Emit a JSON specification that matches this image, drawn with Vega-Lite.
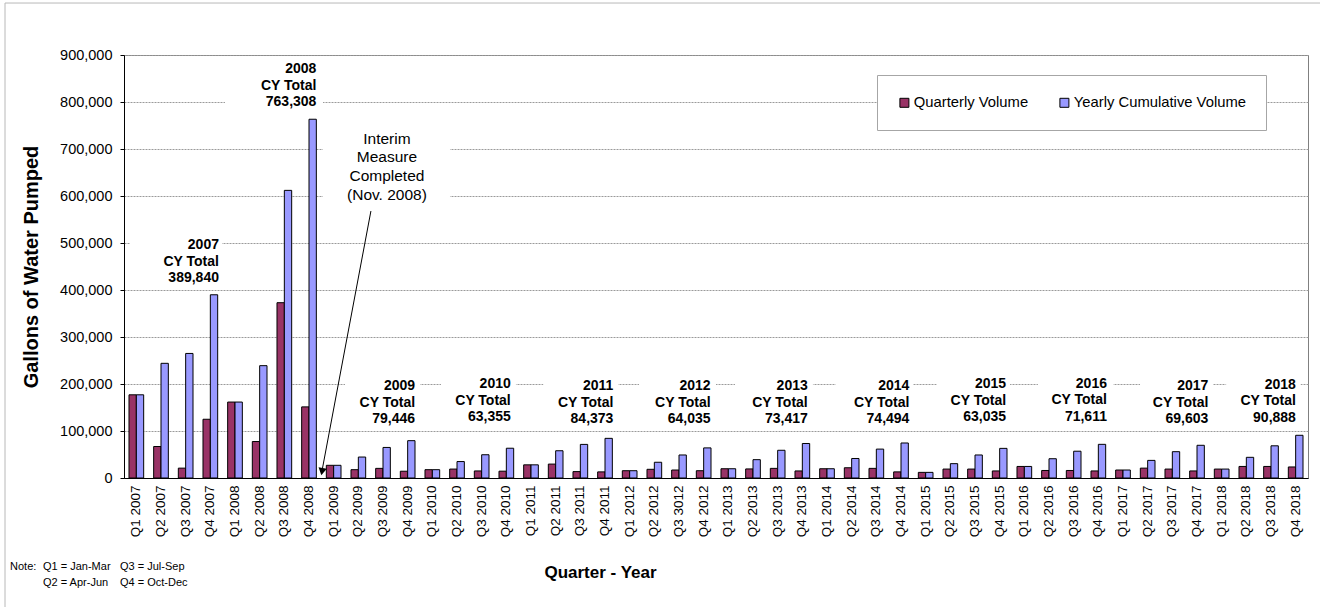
{
  "$schema": "https://vega.github.io/schema/vega-lite/v6.json",
  "width": 1184,
  "height": 423,
  "autosize": {"type": "none"},
  "padding": {"left": 124, "top": 55, "right": 12, "bottom": 129},
  "background": "white",
  "config": {
    "font": "Liberation Sans",
    "view": {"stroke": "#808080", "strokeWidth": 1},
    "axis": {"labelColor": "black", "titleColor": "black", "labelFont": "Liberation Sans", "titleFont": "Liberation Sans"},
    "legend": {"labelFont": "Liberation Sans", "labelColor": "black"}
  },
  "datasets": {
    "volumes": [
      {"quarter": "Q1 2007", "Quarterly Volume": 177000, "Yearly Cumulative Volume": 177000},
      {"quarter": "Q2 2007", "Quarterly Volume": 67000, "Yearly Cumulative Volume": 244000},
      {"quarter": "Q3 2007", "Quarterly Volume": 21000, "Yearly Cumulative Volume": 265000},
      {"quarter": "Q4 2007", "Quarterly Volume": 125000, "Yearly Cumulative Volume": 389840},
      {"quarter": "Q1 2008", "Quarterly Volume": 161600, "Yearly Cumulative Volume": 161600},
      {"quarter": "Q2 2008", "Quarterly Volume": 77600, "Yearly Cumulative Volume": 239000},
      {"quarter": "Q3 2008", "Quarterly Volume": 373000, "Yearly Cumulative Volume": 612000},
      {"quarter": "Q4 2008", "Quarterly Volume": 151300, "Yearly Cumulative Volume": 763308},
      {"quarter": "Q1 2009", "Quarterly Volume": 27000, "Yearly Cumulative Volume": 27000},
      {"quarter": "Q2 2009", "Quarterly Volume": 17700, "Yearly Cumulative Volume": 44600},
      {"quarter": "Q3 2009", "Quarterly Volume": 20500, "Yearly Cumulative Volume": 65000},
      {"quarter": "Q4 2009", "Quarterly Volume": 14400, "Yearly Cumulative Volume": 79446},
      {"quarter": "Q1 2010", "Quarterly Volume": 17700, "Yearly Cumulative Volume": 17700},
      {"quarter": "Q2 2010", "Quarterly Volume": 19000, "Yearly Cumulative Volume": 35000},
      {"quarter": "Q3 2010", "Quarterly Volume": 15000, "Yearly Cumulative Volume": 49500},
      {"quarter": "Q4 2010", "Quarterly Volume": 14500, "Yearly Cumulative Volume": 63355},
      {"quarter": "Q1 2011", "Quarterly Volume": 28000, "Yearly Cumulative Volume": 28000},
      {"quarter": "Q2 2011", "Quarterly Volume": 29600, "Yearly Cumulative Volume": 58000},
      {"quarter": "Q3 2011", "Quarterly Volume": 13600, "Yearly Cumulative Volume": 71500},
      {"quarter": "Q4 2011", "Quarterly Volume": 13000, "Yearly Cumulative Volume": 84373},
      {"quarter": "Q1 2012", "Quarterly Volume": 15500, "Yearly Cumulative Volume": 15500},
      {"quarter": "Q2 2012", "Quarterly Volume": 18500, "Yearly Cumulative Volume": 33500},
      {"quarter": "Q3 3012", "Quarterly Volume": 17000, "Yearly Cumulative Volume": 49000},
      {"quarter": "Q4 2012", "Quarterly Volume": 15500, "Yearly Cumulative Volume": 64035},
      {"quarter": "Q1 2013", "Quarterly Volume": 19700, "Yearly Cumulative Volume": 19700},
      {"quarter": "Q2 2013", "Quarterly Volume": 19300, "Yearly Cumulative Volume": 39000},
      {"quarter": "Q3 2013", "Quarterly Volume": 20500, "Yearly Cumulative Volume": 59000},
      {"quarter": "Q4 2013", "Quarterly Volume": 15000, "Yearly Cumulative Volume": 73417},
      {"quarter": "Q1 2014", "Quarterly Volume": 19700, "Yearly Cumulative Volume": 19700},
      {"quarter": "Q2 2014", "Quarterly Volume": 21800, "Yearly Cumulative Volume": 41500},
      {"quarter": "Q3 2014", "Quarterly Volume": 20500, "Yearly Cumulative Volume": 61500},
      {"quarter": "Q4 2014", "Quarterly Volume": 13000, "Yearly Cumulative Volume": 74494},
      {"quarter": "Q1 2015", "Quarterly Volume": 12000, "Yearly Cumulative Volume": 12000},
      {"quarter": "Q2 2015", "Quarterly Volume": 19000, "Yearly Cumulative Volume": 30500},
      {"quarter": "Q3 2015", "Quarterly Volume": 19000, "Yearly Cumulative Volume": 49000},
      {"quarter": "Q4 2015", "Quarterly Volume": 15000, "Yearly Cumulative Volume": 63035},
      {"quarter": "Q1 2016", "Quarterly Volume": 24600, "Yearly Cumulative Volume": 24600},
      {"quarter": "Q2 2016", "Quarterly Volume": 16000, "Yearly Cumulative Volume": 41000},
      {"quarter": "Q3 2016", "Quarterly Volume": 16000, "Yearly Cumulative Volume": 57000},
      {"quarter": "Q4 2016", "Quarterly Volume": 15000, "Yearly Cumulative Volume": 71611},
      {"quarter": "Q1 2017", "Quarterly Volume": 17000, "Yearly Cumulative Volume": 17000},
      {"quarter": "Q2 2017", "Quarterly Volume": 21000, "Yearly Cumulative Volume": 37500},
      {"quarter": "Q3 2017", "Quarterly Volume": 19000, "Yearly Cumulative Volume": 56000},
      {"quarter": "Q4 2017", "Quarterly Volume": 15000, "Yearly Cumulative Volume": 69603},
      {"quarter": "Q1 2018", "Quarterly Volume": 19000, "Yearly Cumulative Volume": 19000},
      {"quarter": "Q2 2018", "Quarterly Volume": 24600, "Yearly Cumulative Volume": 44000},
      {"quarter": "Q3 2018", "Quarterly Volume": 24600, "Yearly Cumulative Volume": 68500},
      {"quarter": "Q4 2018", "Quarterly Volume": 23500, "Yearly Cumulative Volume": 90888}
    ],
    "boxes": [
      {"x0": 0.243, "x1": 3.973, "y0": 415000, "y1": 520000},
      {"x0": 4.095, "x1": 8.067, "y0": 785000, "y1": 885000},
      {"x0": 8.96, "x1": 12.0, "y0": 115000, "y1": 225000},
      {"x0": 12.85, "x1": 15.89, "y0": 115000, "y1": 225000},
      {"x0": 17.0, "x1": 20.04, "y0": 115000, "y1": 225000},
      {"x0": 20.88, "x1": 24.0, "y0": 115000, "y1": 225000},
      {"x0": 24.77, "x1": 27.93, "y0": 115000, "y1": 225000},
      {"x0": 28.85, "x1": 31.99, "y0": 115000, "y1": 225000},
      {"x0": 32.95, "x1": 35.92, "y0": 115000, "y1": 225000},
      {"x0": 37.05, "x1": 40.11, "y0": 115000, "y1": 225000},
      {"x0": 41.19, "x1": 44.15, "y0": 115000, "y1": 225000},
      {"x0": 44.68, "x1": 47.70, "y0": 115000, "y1": 225000},
      {"x0": 8.067, "x1": 13.216, "y0": 581000, "y1": 751000}
    ],
    "totals": [
      {"x": 3.85, "y": 510000, "label": "2007\nCY Total\n389,840"},
      {"x": 7.80, "y": 884500, "label": "2008\nCY Total\n763,308"},
      {"x": 11.80, "y": 210600, "label": "2009\nCY Total\n79,446"},
      {"x": 15.68, "y": 214300, "label": "2010\nCY Total\n63,355"},
      {"x": 19.84, "y": 210600, "label": "2011\nCY Total\n84,373"},
      {"x": 23.78, "y": 210600, "label": "2012\nCY Total\n64,035"},
      {"x": 27.72, "y": 210600, "label": "2013\nCY Total\n73,417"},
      {"x": 31.84, "y": 210600, "label": "2014\nCY Total\n74,494"},
      {"x": 35.76, "y": 214300, "label": "2015\nCY Total\n63,035"},
      {"x": 39.85, "y": 215500, "label": "2016\nCY Total\n71,611"},
      {"x": 43.96, "y": 210600, "label": "2017\nCY Total\n69,603"},
      {"x": 47.51, "y": 212800, "label": "2018\nCY Total\n90,888"}
    ],
    "interim": [
      {"x": 10.66, "y": 736800, "label": "Interim\nMeasure\nCompleted\n(Nov. 2008)"}
    ],
    "arrow": [
      {"x0": 10.01, "y0": 568000, "x1": 8.03, "y1": 16000}
    ],
    "arrowhead": [
      {"x": 8.027, "y": 13600}
    ],
    "notes": [
      {"x": -4.62, "y": -176600, "label": "Note:"},
      {"x": -3.284, "y": -176600, "label": "Q1 = Jan-Mar"},
      {"x": -0.162, "y": -176600, "label": "Q3 = Jul-Sep"},
      {"x": -3.284, "y": -210600, "label": "Q2 = Apr-Jun"},
      {"x": -0.162, "y": -210600, "label": "Q4 = Oct-Dec"}
    ],
    "frame": [
      {"x0": -4.824, "x1": 48.6, "y0": 1010600, "y1": 1010600},
      {"x0": -4.824, "x1": -4.824, "y0": 1010600, "y1": -280000}
    ]
  },
  "layer": [
    {
      "data": {"name": "volumes"},
      "transform": [{"fold": ["Quarterly Volume", "Yearly Cumulative Volume"], "as": ["series", "value"]}],
      "mark": {"type": "bar", "stroke": "black", "strokeWidth": 1},
      "encoding": {
        "x": {
          "field": "quarter", "type": "nominal", "sort": null,
          "scale": {"paddingInner": 0, "paddingOuter": 0},
          "axis": {"title": "Quarter - Year", "orient": "bottom", "labelAngle": -90, "ticks": false, "domainColor": "black", "domainWidth": 1, "labelFontSize": 13.5, "labelPadding": 7, "labelOverlap": false, "titleFontSize": 17, "titleFontWeight": "bold", "titlePadding": 28, "titleX": 476}
        },
        "xOffset": {
          "field": "series", "type": "nominal", "sort": ["Quarterly Volume", "Yearly Cumulative Volume"],
          "scale": {"paddingInner": 0, "paddingOuter": 0.68}
        },
        "y": {
          "field": "value", "type": "quantitative",
          "scale": {"domain": [0, 900000], "nice": false},
          "axis": {"title": "Gallons of Water Pumped", "values": [0, 100000, 200000, 300000, 400000, 500000, 600000, 700000, 800000, 900000], "labelExpr": "format(datum.value, ',')", "grid": true, "gridColor": "#9a9a9a", "gridDash": [2, 1], "gridWidth": 1, "tickSize": 4, "tickColor": "black", "domainColor": "black", "labelFontSize": 14.5, "labelPadding": 8, "titleFontSize": 20, "titleFontWeight": "bold", "titlePadding": 18}
        },
        "color": {
          "field": "series", "type": "nominal",
          "scale": {"domain": ["Quarterly Volume", "Yearly Cumulative Volume"], "range": ["#993366", "#9999FF"]},
          "legend": {"title": null, "orient": "none", "legendX": 753, "legendY": 20, "direction": "horizontal", "padding": 20, "strokeColor": "#a6a6a6", "fillColor": "white", "symbolType": "square", "symbolSize": 81, "symbolStrokeColor": "black", "symbolStrokeWidth": 1, "labelFontSize": 14.8, "labelOffset": 2, "labelLimit": 400, "columnPadding": 28}
        }
      }
    },
    {
      "layer": [
        {
          "data": {"name": "boxes"},
          "mark": {"type": "rect", "fill": "white", "strokeWidth": 0},
          "encoding": {
            "x": {"field": "x0", "type": "quantitative", "scale": {"domain": [0, 48], "nice": false, "zero": false},
                  "axis": {"orient": "bottom", "values": [0,1,2,3,4,5,6,7,8,9,10,11,12,13,14,15,16,17,18,19,20,21,22,23,24,25,26,27,28,29,30,31,32,33,34,35,36,37,38,39,40,41,42,43,44,45,46,47,48], "labels": false, "domain": false, "grid": false, "ticks": true, "tickSize": 5, "tickColor": "black", "title": null}},
            "x2": {"field": "x1"},
            "y": {"field": "y0", "type": "quantitative", "scale": {"domain": [0, 900000], "nice": false, "zero": false}, "axis": null},
            "y2": {"field": "y1"}
          }
        },
        {
          "data": {"name": "frame"},
          "mark": {"type": "rule", "color": "#b8b8b8", "strokeWidth": 1},
          "encoding": {
            "x": {"field": "x0", "type": "quantitative", "scale": {"domain": [0, 48], "nice": false, "zero": false}, "axis": null},
            "x2": {"field": "x1"},
            "y": {"field": "y0", "type": "quantitative", "scale": {"domain": [0, 900000], "nice": false, "zero": false}, "axis": null},
            "y2": {"field": "y1"}
          }
        },
        {
          "data": {"name": "arrow"},
          "mark": {"type": "rule", "color": "black", "strokeWidth": 1},
          "encoding": {
            "x": {"field": "x0", "type": "quantitative", "scale": {"domain": [0, 48], "nice": false, "zero": false}, "axis": null},
            "x2": {"field": "x1"},
            "y": {"field": "y0", "type": "quantitative", "scale": {"domain": [0, 900000], "nice": false, "zero": false}, "axis": null},
            "y2": {"field": "y1"}
          }
        },
        {
          "data": {"name": "arrowhead"},
          "mark": {"type": "point", "shape": "triangle-down", "filled": true, "color": "black", "size": 70, "angle": 10.7, "opacity": 1},
          "encoding": {
            "x": {"field": "x", "type": "quantitative", "scale": {"domain": [0, 48], "nice": false, "zero": false}, "axis": null},
            "y": {"field": "y", "type": "quantitative", "scale": {"domain": [0, 900000], "nice": false, "zero": false}, "axis": null}
          }
        },
        {
          "data": {"name": "totals"},
          "mark": {"type": "text", "align": "right", "baseline": "top", "font": "Liberation Sans", "fontWeight": "bold", "fontSize": 14, "lineHeight": 16.5, "lineBreak": "\n", "color": "black"},
          "encoding": {
            "x": {"field": "x", "type": "quantitative", "scale": {"domain": [0, 48], "nice": false, "zero": false}, "axis": null},
            "y": {"field": "y", "type": "quantitative", "scale": {"domain": [0, 900000], "nice": false, "zero": false}, "axis": null},
            "text": {"field": "label"}
          }
        },
        {
          "data": {"name": "interim"},
          "mark": {"type": "text", "align": "center", "baseline": "top", "font": "Liberation Sans", "fontSize": 15.5, "lineHeight": 18.6, "lineBreak": "\n", "color": "black"},
          "encoding": {
            "x": {"field": "x", "type": "quantitative", "scale": {"domain": [0, 48], "nice": false, "zero": false}, "axis": null},
            "y": {"field": "y", "type": "quantitative", "scale": {"domain": [0, 900000], "nice": false, "zero": false}, "axis": null},
            "text": {"field": "label"}
          }
        },
        {
          "data": {"name": "notes"},
          "mark": {"type": "text", "align": "left", "baseline": "top", "font": "Liberation Sans", "fontSize": 11, "color": "black"},
          "encoding": {
            "x": {"field": "x", "type": "quantitative", "scale": {"domain": [0, 48], "nice": false, "zero": false}, "axis": null},
            "y": {"field": "y", "type": "quantitative", "scale": {"domain": [0, 900000], "nice": false, "zero": false}, "axis": null},
            "text": {"field": "label"}
          }
        }
      ]
    }
  ],
  "resolve": {"scale": {"x": "independent", "y": "independent"}, "axis": {"x": "independent", "y": "independent"}}
}
